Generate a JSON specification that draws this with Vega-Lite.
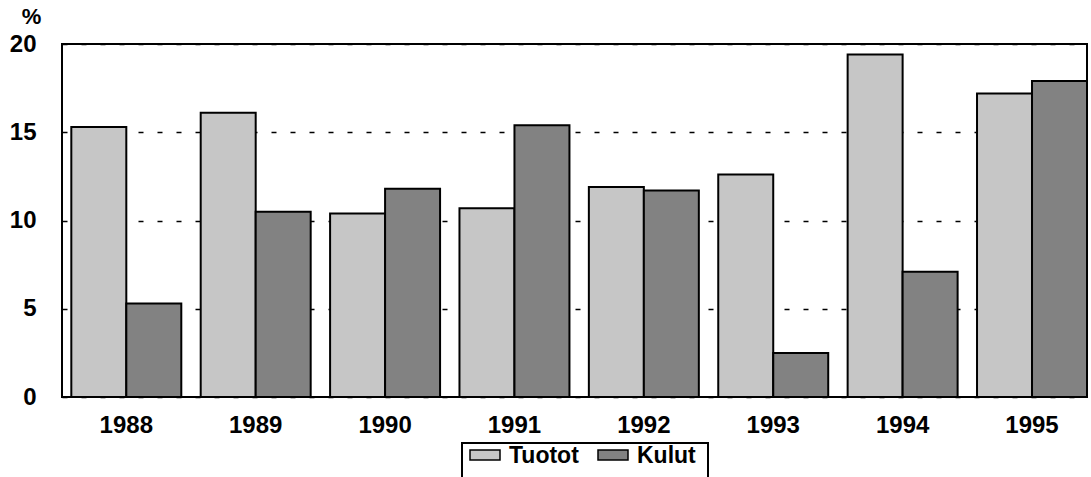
{
  "$schema": "https://vega.github.io/schema/vega-lite/v6.json",
  "autosize": "none",
  "width": 1025,
  "height": 353,
  "padding": {"left": 62, "top": 44, "right": 4, "bottom": 80},
  "background": "white",
  "config": {
    "font": "Liberation Sans",
    "view": {"stroke": "black", "strokeWidth": 2},
    "axis": {"labelFont": "Liberation Sans", "labelFontWeight": "bold", "labelColor": "black", "domain": false, "ticks": false}
  },
  "data": {
    "values": [
      {"year": "1988", "series": "Tuotot", "value": 15.3},
      {"year": "1988", "series": "Kulut", "value": 5.3},
      {"year": "1989", "series": "Tuotot", "value": 16.1},
      {"year": "1989", "series": "Kulut", "value": 10.5},
      {"year": "1990", "series": "Tuotot", "value": 10.4},
      {"year": "1990", "series": "Kulut", "value": 11.8},
      {"year": "1991", "series": "Tuotot", "value": 10.7},
      {"year": "1991", "series": "Kulut", "value": 15.4},
      {"year": "1992", "series": "Tuotot", "value": 11.9},
      {"year": "1992", "series": "Kulut", "value": 11.7},
      {"year": "1993", "series": "Tuotot", "value": 12.6},
      {"year": "1993", "series": "Kulut", "value": 2.5},
      {"year": "1994", "series": "Tuotot", "value": 19.4},
      {"year": "1994", "series": "Kulut", "value": 7.1},
      {"year": "1995", "series": "Tuotot", "value": 17.2},
      {"year": "1995", "series": "Kulut", "value": 17.9}
    ]
  },
  "mark": {"type": "bar", "stroke": "black", "strokeWidth": 2},
  "encoding": {
    "x": {
      "field": "year",
      "type": "nominal",
      "scale": {"paddingInner": 0.15, "paddingOuter": 0.036, "align": 1},
      "axis": {"title": null, "labelAngle": 0, "labelFontSize": 24, "labelPadding": 16, "grid": false}
    },
    "xOffset": {"field": "series", "sort": ["Tuotot", "Kulut"], "scale": {"paddingInner": 0, "paddingOuter": 0}},
    "y": {
      "field": "value",
      "type": "quantitative",
      "scale": {"domain": [0, 20], "nice": false},
      "axis": {
        "values": [0, 5, 10, 15, 20],
        "title": "%",
        "titleAngle": 0,
        "titleFontSize": 22,
        "titleFontWeight": "bold",
        "titleColor": "black",
        "titleAlign": "center",
        "titleBaseline": "alphabetic",
        "titleX": -31,
        "titleY": -21,
        "labelFontSize": 24,
        "labelPadding": 26,
        "labelBaseline": "middle",
        "grid": true,
        "gridColor": "black",
        "gridDash": [5, 14],
        "gridWidth": 1.5,
        "gridOpacity": 1
      }
    },
    "color": {
      "field": "series",
      "type": "nominal",
      "sort": ["Tuotot", "Kulut"],
      "scale": {"domain": ["Tuotot", "Kulut"], "range": ["#c6c6c6", "#828282"]},
      "legend": {
        "title": null,
        "orient": "none",
        "legendX": 400,
        "legendY": 399,
        "direction": "horizontal",
        "gridAlign": "none",
        "strokeColor": "black",
        "fillColor": "white",
        "padding": 12,
        "symbolType": "M-1,-0.66H3V0.66H-1Z",
        "symbolSize": 225,
        "symbolStrokeColor": "black",
        "symbolStrokeWidth": 1.5,
        "symbolOpacity": 1,
        "labelFont": "Liberation Sans",
        "labelFontSize": 23,
        "labelFontWeight": "bold",
        "labelColor": "black",
        "labelOffset": 16,
        "columnPadding": 16,
        "encode": {
          "legend": {"update": {"strokeWidth": {"value": 2}}},
          "symbols": {"update": {"x": {"value": 3.5}, "y": {"value": 0}}},
          "labels": {"update": {"dx": {"value": -4}, "dy": {"value": -11}}}
        }
      }
    }
  }
}
